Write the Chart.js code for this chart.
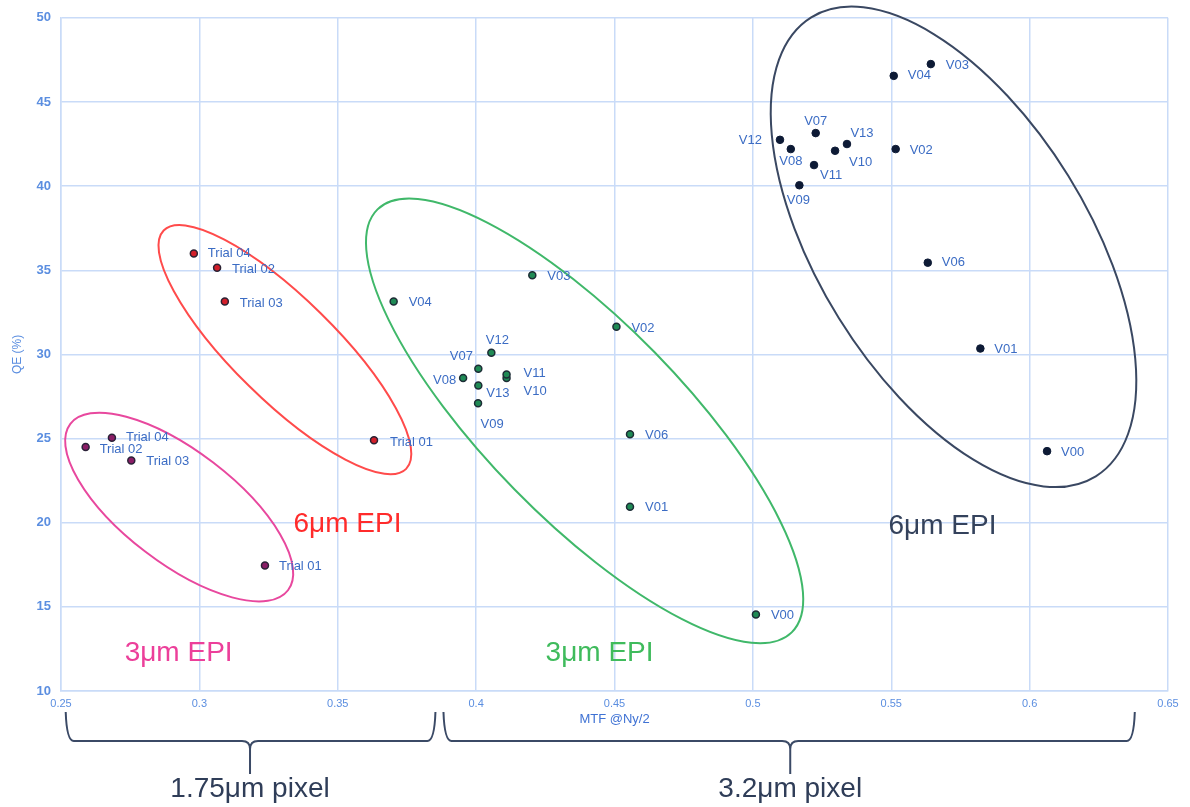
<!DOCTYPE html>
<html>
<head>
<meta charset="utf-8">
<script src="https://cdn.jsdelivr.net/npm/chart.js@4.4.0/dist/chart.umd.min.js"></script>
<style>
  html, body { margin: 0; padding: 0; background: #fff; }
  #wrap { width: 1190px; height: 807px; position: relative; }
</style>
</head>
<body>
<div id="wrap"><canvas id="qeChart"></canvas></div>
<script>
// --- datos ---
const trialNames = ['Trial 01', 'Trial 02', 'Trial 03', 'Trial 04'];
const vNames = ['V00', 'V01', 'V02', 'V03', 'V04', 'V06', 'V07', 'V08', 'V09', 'V10', 'V11', 'V12', 'V13'];

// 1.75um pixel, 3um EPI
const epi3SmallMtf = [0.3237, 0.2589, 0.2754, 0.2684];
const epi3SmallQe = [17.45, 24.5, 23.7, 25.05];
// 1.75um pixel, 6um EPI
const epi6SmallMtf = [0.3631, 0.3064, 0.3092, 0.2980];
const epi6SmallQe = [24.9, 35.15, 33.15, 36.0];
// 3.2um pixel, 3um EPI
const epi3LargeMtf = [0.5011, 0.4556, 0.4507, 0.4203, 0.3702, 0.4556, 0.4008, 0.3953, 0.4007, 0.4110, 0.4110, 0.4055, 0.4008];
const epi3LargeQe = [14.55, 20.95, 31.65, 34.7, 33.15, 25.25, 29.15, 28.6, 27.1, 28.6, 28.8, 30.1, 28.15];
// 3.2um pixel, 6um EPI
const epi6LargeMtf = [0.6063, 0.5822, 0.5516, 0.5643, 0.5509, 0.5632, 0.5227, 0.5137, 0.5168, 0.5297, 0.5221, 0.5098, 0.5340];
const epi6LargeQe = [24.25, 30.35, 42.2, 47.25, 46.55, 35.45, 43.15, 42.2, 40.05, 42.1, 41.25, 42.75, 42.5];

const xTicks = [0.25, 0.3, 0.35, 0.4, 0.45, 0.5, 0.55, 0.6, 0.65];
const yTicks = [10, 15, 20, 25, 30, 35, 40, 45, 50];

// posicion de etiquetas respecto al punto: [dx, dy, align]
const R = [15, 1, 'left'];
const epi3SmallLbl = [[14, 1, 'left'], [14, 2, 'left'], [15, 1, 'left'], [14, 0, 'left']];
const epi6SmallLbl = [[16, 2, 'left'], [15, 2, 'left'], [15, 2, 'left'], [14, 0, 'left']];
const epi3LargeLbl = [R, R, [15, 2, 'left'], R, R, R, [-17, -12, 'center'], [-7, 2, 'right'],
  [14, 21, 'center'], [17, 13, 'left'], [17, -1, 'left'], [6, -12, 'center'], [8, 8, 'left']];
const epi6LargeLbl = [[14, 1, 'left'], [14, 1, 'left'], [14, 1, 'left'], [15, 1, 'left'], [14, 0, 'left'], [14, 0, 'left'],
  [0, -12, 'center'], [0, 12, 'center'], [-1, 15, 'center'], [14, 12, 'left'], [6, 10, 'left'], [-18, 1, 'right'], [15, -11, 'center']];

const toPoints = (xs, ys) => xs.map((x, i) => ({ x: x, y: ys[i] }));

// Elipses: centro en unidades de datos, radios en px, angulo en grados
const ellipses = [
  { x: 0.2927, y: 20.93, a: 137, b: 56, rot: 37.4, color: '#e8489e' },
  { x: 0.3309, y: 30.28, a: 170, b: 51, rot: 44.5, color: '#ff4b4b' },
  { x: 0.4392, y: 26.05, a: 296, b: 98, rot: 45.6, color: '#40b86a' },
  { x: 0.5725, y: 36.39, a: 270, b: 135, rot: 58.2, color: '#3a4862' }
];

const groupLabels = [
  { text: '3μm EPI', x: 0.2925, y: 12.26, color: '#ec3f9a' },
  { text: '6μm EPI', x: 0.3535, y: 19.91, color: '#ff2b2b' },
  { text: '3μm EPI', x: 0.4446, y: 12.26, color: '#3fbb5c' },
  { text: '6μm EPI', x: 0.5685, y: 19.8, color: '#34425c' }
];

const braces = [
  { from: 0.2517, to: 0.3853, mid: 0.3183, text: '1.75μm pixel' },
  { from: 0.3882, to: 0.6380, mid: 0.5135, text: '3.2μm pixel' }
];

// Plugin: elipses y textos de grupo
const ellipsePlugin = {
  id: 'ellipses',
  beforeDatasetsDraw(chart) {
    const { ctx, scales } = chart;
    ctx.save();
    ellipses.forEach(e => {
      const cx = scales.x.getPixelForValue(e.x);
      const cy = scales.y.getPixelForValue(e.y);
      ctx.beginPath();
      ctx.ellipse(cx, cy, e.a, e.b, e.rot * Math.PI / 180, 0, Math.PI * 2);
      ctx.strokeStyle = e.color;
      ctx.lineWidth = 2;
      ctx.stroke();
    });
    ctx.font = '28px "Liberation Sans", Arial, sans-serif';
    ctx.textAlign = 'center';
    ctx.textBaseline = 'middle';
    groupLabels.forEach(g => {
      ctx.fillStyle = g.color;
      ctx.fillText(g.text, scales.x.getPixelForValue(g.x), scales.y.getPixelForValue(g.y));
    });
    ctx.restore();
  }
};

// Plugin: etiquetas de cada punto
const pointLabelPlugin = {
  id: 'pointLabels',
  afterDatasetsDraw(chart) {
    const ctx = chart.ctx;
    ctx.save();
    ctx.font = '13px "Liberation Sans", Arial, sans-serif';
    ctx.fillStyle = '#3b6cc4';
    ctx.textBaseline = 'middle';
    chart.data.datasets.forEach((ds, di) => {
      const meta = chart.getDatasetMeta(di);
      meta.data.forEach((pt, i) => {
        const p = ds.labelPos[i];
        ctx.textAlign = p[2];
        ctx.fillText(ds.names[i], pt.x + p[0], pt.y + p[1]);
      });
    });
    ctx.restore();
  }
};

// Plugin: llaves debajo del eje x
const bracePlugin = {
  id: 'braces',
  afterDraw(chart) {
    const { ctx, scales, chartArea } = chart;
    const yTop = chartArea.bottom + 21;
    const yLine = chartArea.bottom + 50;
    const yStem = chartArea.bottom + 83;
    const r = 8;
    ctx.save();
    ctx.strokeStyle = '#3b4a66';
    ctx.lineWidth = 2;
    braces.forEach(b => {
      const x1 = scales.x.getPixelForValue(b.from);
      const x2 = scales.x.getPixelForValue(b.to);
      const xm = scales.x.getPixelForValue(b.mid);
      ctx.beginPath();
      ctx.moveTo(x1, yTop);
      ctx.quadraticCurveTo(x1 + 1, yLine, x1 + r, yLine);
      ctx.lineTo(xm - r, yLine);
      ctx.quadraticCurveTo(xm, yLine, xm, yLine + r);
      ctx.lineTo(xm, yStem);
      ctx.moveTo(x2, yTop);
      ctx.quadraticCurveTo(x2 - 1, yLine, x2 - r, yLine);
      ctx.lineTo(xm + r, yLine);
      ctx.quadraticCurveTo(xm, yLine, xm, yLine + r);
      ctx.stroke();
      ctx.fillStyle = '#2f3d58';
      ctx.font = '28px "Liberation Sans", Arial, sans-serif';
      ctx.textAlign = 'center';
      ctx.textBaseline = 'middle';
      ctx.fillText(b.text, xm, chartArea.bottom + 98);
    });
    ctx.restore();
  }
};

const ctx = document.getElementById('qeChart').getContext('2d');

const qeChart = new Chart(ctx, {
  type: 'scatter',
  data: {
    datasets: [
      {
        label: '3um EPI 1.75um',
        data: toPoints(epi3SmallMtf, epi3SmallQe),
        names: trialNames,
        labelPos: epi3SmallLbl,
        backgroundColor: '#8a1d66',
        borderColor: '#2b2238',
        borderWidth: 1.5,
        pointRadius: 3.5
      },
      {
        label: '6um EPI 1.75um',
        data: toPoints(epi6SmallMtf, epi6SmallQe),
        names: trialNames,
        labelPos: epi6SmallLbl,
        backgroundColor: '#d31f2a',
        borderColor: '#2b2233',
        borderWidth: 1.5,
        pointRadius: 3.5
      },
      {
        label: '3um EPI 3.2um',
        data: toPoints(epi3LargeMtf, epi3LargeQe),
        names: vNames,
        labelPos: epi3LargeLbl,
        backgroundColor: '#1f8a55',
        borderColor: '#1d2d36',
        borderWidth: 1.5,
        pointRadius: 3.5
      },
      {
        label: '6um EPI 3.2um',
        data: toPoints(epi6LargeMtf, epi6LargeQe),
        names: vNames,
        labelPos: epi6LargeLbl,
        backgroundColor: '#0d1a35',
        borderColor: '#0d1a35',
        borderWidth: 1,
        pointRadius: 3.8
      }
    ]
  },
  options: {
    responsive: true,
    maintainAspectRatio: false,
    animation: false,
    layout: { padding: { top: 17, right: 22, bottom: 80, left: 0 } },
    plugins: {
      legend: { display: false },
      tooltip: { enabled: false }
    },
    scales: {
      x: {
        type: 'linear',
        min: 0.25,
        max: 0.65,
        afterBuildTicks: (s) => { s.ticks = xTicks.map(v => ({ value: v })); },
        afterFit: (s) => { s.height = 36; },
        ticks: {
          color: '#5b8ee0',
          font: { family: '"Liberation Sans", Arial, sans-serif', size: 11 },
          padding: 6,
          maxRotation: 0,
          callback: (v) => String(+v.toFixed(2))
        },
        grid: { color: '#c9dbf8', lineWidth: 1.5, drawTicks: false },
        border: { color: '#c9dbf8', width: 1.5 },
        title: {
          display: true,
          text: 'MTF @Ny/2',
          color: '#3f72d4',
          font: { family: '"Liberation Sans", Arial, sans-serif', size: 13 },
          padding: { top: 0, bottom: 0 }
        }
      },
      y: {
        type: 'linear',
        min: 10,
        max: 50,
        afterBuildTicks: (s) => { s.ticks = yTicks.map(v => ({ value: v })); },
        afterFit: (s) => { s.width = 61; },
        ticks: {
          color: '#5b8ee0',
          font: { family: '"Liberation Sans", Arial, sans-serif', size: 13, weight: 'bold' },
          padding: 10
        },
        grid: { color: '#c9dbf8', lineWidth: 1.5, drawTicks: false },
        border: { color: '#c9dbf8', width: 1.5 },
        title: {
          display: true,
          text: 'QE (%)',
          color: '#5b8ee0',
          font: { family: '"Liberation Sans", Arial, sans-serif', size: 12 },
          padding: { top: 10, bottom: 0 }
        }
      }
    }
  },
  plugins: [ellipsePlugin, pointLabelPlugin, bracePlugin]
});

console.log(qeChart.chartArea);
</script>
</body>
</html>
